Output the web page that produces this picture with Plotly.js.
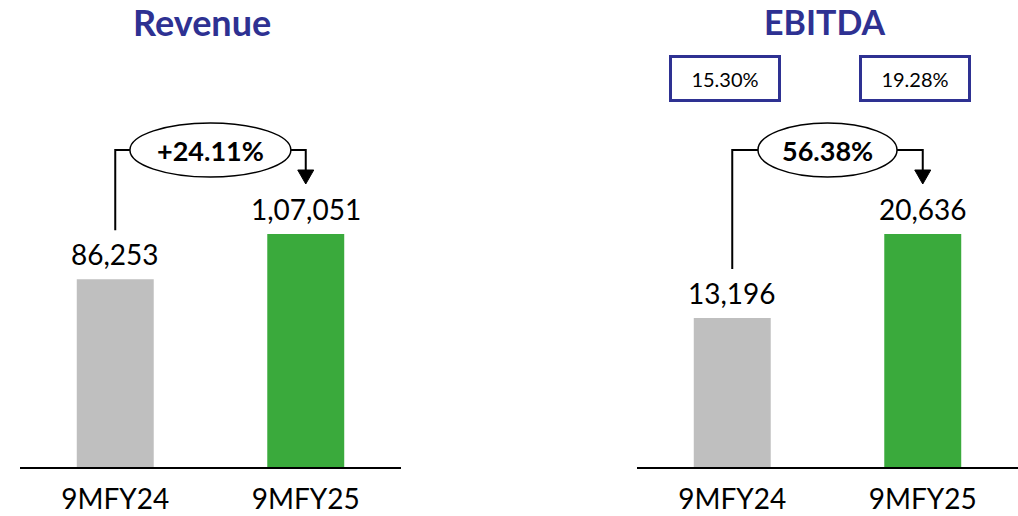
<!DOCTYPE html>
<html>
<head>
<meta charset="utf-8">
<script src="https://cdn.plot.ly/plotly-3.0.1.min.js"></script>
<style>html,body{margin:0;padding:0;background:#fff;}#chart{width:1018px;height:516px;}</style>
</head>
<body>
<div id="chart"></div>
<script>
const categories = ['9MFY24', '9MFY25'];
const revenue = [86253, 107051];
const ebitda = [13196, 20636];
const revenueLabels = ['86,253', '1,07,051'];
const ebitdaLabels = ['13,196', '20,636'];
const revenueGrowth = '+24.11%';
const ebitdaGrowth = '56.38%';
const ebitdaMargins = ['15.30%', '19.28%'];
const panelTitles = ['Revenue', 'EBITDA'];

const FONT = 'Lato, "Open Sans", sans-serif';
const BLUE = '#2E3192';
const barColors = ['#BFBFBF', '#3AAA3C'];
const PLOT_H = 467;           // plot height in px (margin t=0, b=49)
const px = p => p / PLOT_H;   // pixels -> paper fraction

const R1 = Math.max(...revenue) * PLOT_H / 233;
const R2 = Math.max(...ebitda) * PLOT_H / 233;

const traces = [
  {type: 'bar', x: categories, y: revenue, xaxis: 'x', yaxis: 'y', width: 0.404,
   marker: {color: barColors}, hoverinfo: 'none', showlegend: false},
  {type: 'bar', x: categories, y: ebitda, xaxis: 'x2', yaxis: 'y2', width: 0.404,
   marker: {color: barColors}, hoverinfo: 'none', showlegend: false}
];

function connectorShapes(xref, vals, R, ex0, ex1) {
  const yh = 1 - px(150);
  const yb = vals[0] / R + px(49);
  const tip = vals[1] / R + px(50);
  const base = tip + px(14);
  return [
    {type: 'path', xref: xref, yref: 'paper',
     path: `M 0,${yb} L 0,${yh} L ${ex0},${yh} M ${ex1},${yh} L 1,${yh} L 1,${base}`,
     line: {color: '#000', width: 2}},
    {type: 'path', xref: xref, yref: 'paper',
     path: `M 0.958,${base} L 1.042,${base} L 1,${tip} Z`,
     fillcolor: '#000', line: {color: '#000', width: 1}},
    {type: 'circle', xref: xref, yref: 'paper', x0: ex0, x1: ex1,
     y0: 1 - px(177), y1: 1 - px(123), fillcolor: '#fff',
     line: {color: '#000', width: 1.5}}
  ];
}

const shapes = [
  ...connectorShapes('x', revenue, R1, 0.077, 0.922),
  ...connectorShapes('x2', ebitda, R2, 0.135, 0.865)
];

const annotations = [];
// Titles
annotations.push({xref: 'x', yref: 'paper', x: 0.455, y: 1 - px(22), yanchor: 'middle',
  text: panelTitles[0], showarrow: false, font: {family: FONT, size: 36, color: BLUE, weight: 'bold'}});
annotations.push({xref: 'x2', yref: 'paper', x: 0.487, y: 1, yanchor: 'top', borderpad: 0,
  text: panelTitles[1], showarrow: false, font: {family: FONT, size: 34, color: BLUE, weight: 'bold'}});
// Value labels
categories.forEach((c, i) => {
  annotations.push({xref: 'x', yref: 'y', x: c, y: revenue[i], yanchor: 'bottom', yshift: 6,
    text: revenueLabels[i], showarrow: false, font: {family: FONT, size: 28, color: '#000'}});
  annotations.push({xref: 'x2', yref: 'y2', x: c, y: ebitda[i], yanchor: 'bottom', yshift: 6,
    text: ebitdaLabels[i], showarrow: false, font: {family: FONT, size: 28, color: '#000'}});
  // margin boxes
  annotations.push({xref: 'x2', yref: 'paper', x: i - 0.04, y: 1 - px(78.5), yanchor: 'middle',
    text: ebitdaMargins[i], showarrow: false, width: 106, height: 41, borderpad: 0,
    bordercolor: BLUE, borderwidth: 3, font: {family: FONT, size: 20, color: '#000'}});
});
// Growth labels
annotations.push({xref: 'x', yref: 'paper', x: 0.5, y: 1 - px(150), yanchor: 'middle',
  text: revenueGrowth, showarrow: false, font: {family: FONT, size: 27, color: '#000', weight: 'bold'}});
annotations.push({xref: 'x2', yref: 'paper', x: 0.5, y: 1 - px(150), yanchor: 'middle',
  text: ebitdaGrowth, showarrow: false, font: {family: FONT, size: 27, color: '#000', weight: 'bold'}});

const xaxisBase = {type: 'category', range: [-0.5, 1.5], showline: true, linecolor: '#000',
  linewidth: 2, showgrid: false, zeroline: false, ticks: '', fixedrange: true,
  ticklabelstandoff: 6,
  tickfont: {family: FONT, size: 28, color: '#000'}};
const yaxisBase = {visible: false, showgrid: false, zeroline: false, fixedrange: true};

const layout = {
  width: 1018, height: 516,
  margin: {l: 0, r: 0, t: 0, b: 49},
  paper_bgcolor: '#fff', plot_bgcolor: '#fff',
  showlegend: false,
  xaxis: Object.assign({}, xaxisBase, {domain: [20 / 1018, 401 / 1018], anchor: 'y'}),
  xaxis2: Object.assign({}, xaxisBase, {domain: [637 / 1018, 1], anchor: 'y2'}),
  yaxis: Object.assign({}, yaxisBase, {range: [0, R1], anchor: 'x'}),
  yaxis2: Object.assign({}, yaxisBase, {range: [0, R2], anchor: 'x2'}),
  shapes: shapes,
  annotations: annotations
};

Plotly.newPlot('chart', traces, layout, {displayModeBar: false, staticPlot: true});
</script>
</body>
</html>
